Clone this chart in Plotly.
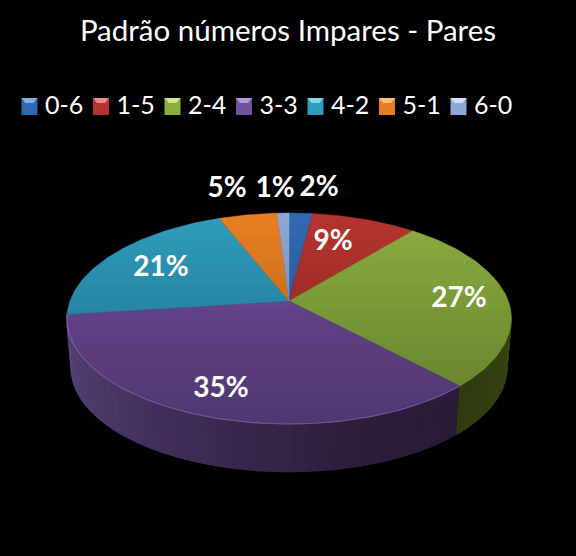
import numpy as np
import plotly.graph_objects as go

categories = ['0-6', '1-5', '2-4', '3-3', '4-2', '5-1', '6-0']
values = [2, 9, 27, 35, 21, 5, 1]

colors = ['#3169b0', '#b5332f', '#8cae3e', '#71519e', '#2e9cba', '#e87e22', '#8ea8d6']
bevels = ['#7fb0ea', '#ea8a86', '#cfe58c', '#b59ade', '#7fd8ee', '#ffc078', '#cfdcf6']
label_xy = [(319, 189), (333, 243), (459, 300), (221, 390), (161, 269), (227, 190), (275, 190)]

W, H = 576, 556
CX, CY = 289, 301      # pie centre in the picture
A, B, K = 219, 102.6, 0.166   # perspective of the top face
DEPTH = 50
LEG_X0, LEG_STEP, LEG_Y = 29.5, 71.5, 106.5


def rim(t, cy=CY, s=1.0):
    w = 1 + K * np.cos(t)
    return CX + s * A * np.sin(t) / w, cy - s * B * np.cos(t) / w


def wall_color(t, stops):
    deg = np.degrees(t)
    rgb = [np.interp(deg, [p[0] for p in stops], [p[1][i] for p in stops]) for i in range(3)]
    return 'rgb(%d,%d,%d)' % tuple(rgb)


purple_wall = [(137, (42, 28, 56)), (165, (44, 30, 60)), (195, (58, 41, 80)),
               (225, (72, 54, 100)), (263, (90, 68, 122))]
green_wall = [(85, (60, 76, 24)), (115, (52, 66, 20)), (137, (46, 60, 16))]

fig = go.Figure()

pct = np.cumsum([0] + values) / sum(values)
angles = pct * 2 * np.pi

# side wall, only the green and purple slices are seen from the front
for i, stops in [(2, green_wall), (3, purple_wall)]:
    t0 = max(angles[i], np.radians(85))
    ts = np.linspace(t0, angles[i + 1], 46)
    for a, b in zip(ts[:-1], ts[1:]):
        tt = np.linspace(a, b, 3)
        x1, y1 = rim(tt)
        x2, y2 = rim(tt[::-1], CY + DEPTH, 0.98)
        c = wall_color((a + b) / 2, stops)
        fig.add_trace(go.Scatter(x=np.r_[x1, x2], y=np.r_[y1, y2], mode='lines', fill='toself',
                                 fillcolor=c, line=dict(color=c, width=1.5),
                                 hoverinfo='skip', showlegend=False))

# top face
for i in range(len(values)):
    tt = np.linspace(angles[i], angles[i + 1], 60)
    x, y = rim(tt)
    fig.add_trace(go.Scatter(x=np.r_[CX, x, CX], y=np.r_[CY, y, CY], mode='lines', fill='toself',
                             fillcolor=colors[i], line=dict(color=colors[i], width=0.5),
                             hoverinfo='skip', showlegend=False))

# top to bottom darkening of the face
tt = np.linspace(0, 2 * np.pi, 361)
rx, ry = rim(tt)
for y0 in np.arange(225, 424, 12):
    keep = ry >= y0
    order = np.argsort(tt[keep])
    fig.add_trace(go.Scatter(x=rx[keep][order], y=ry[keep][order], mode='lines', fill='toself',
                             fillcolor='rgba(0,0,0,0.015)', line=dict(width=0),
                             hoverinfo='skip', showlegend=False))

# thin light edge along the front
tt = np.linspace(angles[3], angles[4], 120)
x, y = rim(tt)
fig.add_trace(go.Scatter(x=x, y=y, mode='lines', line=dict(color='rgba(190,160,225,0.35)', width=1),
                         hoverinfo='skip', showlegend=False))

# percent labels
fig.add_trace(go.Scatter(x=[p[0] for p in label_xy], y=[p[1] for p in label_xy], mode='text',
                         text=['%d%%' % v for v in values],
                         textfont=dict(family='Lato', size=28, color='white', weight='bold'),
                         hoverinfo='skip', showlegend=False))

# legend row, plotly's own legend clips the last entry at this spacing
for i, c in enumerate(categories):
    mx = LEG_X0 + i * LEG_STEP
    fig.add_trace(go.Scatter(x=[mx - 8, mx + 8, mx + 8, mx - 8, mx - 8],
                             y=[LEG_Y - 8.5, LEG_Y - 8.5, LEG_Y + 8.5, LEG_Y + 8.5, LEG_Y - 8.5],
                             mode='lines', fill='toself', fillcolor=colors[i], line=dict(width=0),
                             hoverinfo='skip', showlegend=False))
    fig.add_trace(go.Scatter(x=[mx - 8, mx + 8, mx + 4, mx - 4, mx - 8],
                             y=[LEG_Y - 8.5, LEG_Y - 8.5, LEG_Y - 3.5, LEG_Y - 3.5, LEG_Y - 8.5],
                             mode='lines', fill='toself', fillcolor=bevels[i], line=dict(width=0),
                             hoverinfo='skip', showlegend=False))
fig.add_trace(go.Scatter(x=[LEG_X0 + i * LEG_STEP + 15.5 for i in range(len(categories))],
                         y=[LEG_Y + 1] * len(categories), mode='text', text=categories,
                         textposition='middle right',
                         textfont=dict(family='Lato', size=25, color='white'),
                         hoverinfo='skip', showlegend=False))

fig.update_layout(
    width=W, height=H, autosize=False,
    margin=dict(l=0, r=0, t=0, b=0),
    paper_bgcolor='black', plot_bgcolor='black',
    showlegend=False,
    title=dict(text='Padrão números Impares - Pares', x=0.5, xanchor='center', y=0.944, yanchor='middle',
               font=dict(family='Lato', size=29.5, color='white')),
    xaxis=dict(range=[0, W], visible=False, fixedrange=True),
    yaxis=dict(range=[H, 0], visible=False, fixedrange=True),
)

fig.write_html("out.html", config=dict(displayModeBar=False),
               post_script="document.body.style.margin='0';document.body.style.background='black';")
